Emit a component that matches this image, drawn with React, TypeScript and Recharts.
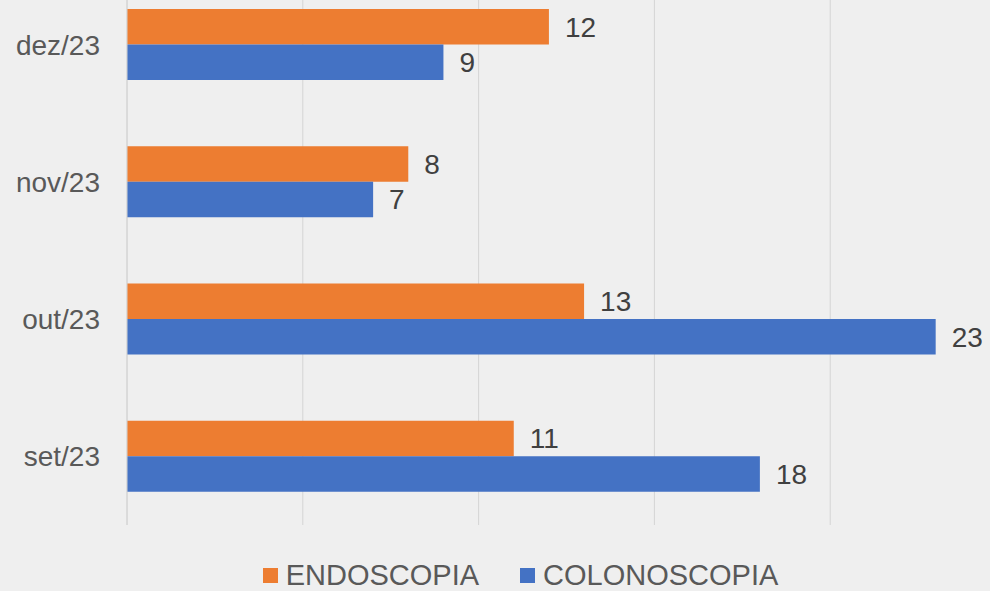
import { BarChart, Bar, XAxis, YAxis, CartesianGrid, LabelList, Legend } from 'recharts'

// meses (de cima para baixo) e valores
const MESES = ['dez/23', 'nov/23', 'out/23', 'set/23']
const ENDOSCOPIA = [12, 8, 13, 11]
const COLONOSCOPIA = [9, 7, 23, 18]
const X_TICKS = [0, 5, 10, 15, 20, 25]

const SERIES = [
    { key: 'endoscopia', name: 'ENDOSCOPIA', color: '#ED7D31' },
    { key: 'colonoscopia', name: 'COLONOSCOPIA', color: '#4472C4' },
]

const data = MESES.map((mes, i) => ({
    mes,
    endoscopia: ENDOSCOPIA[i],
    colonoscopia: COLONOSCOPIA[i],
}))

const FONT = '"Liberation Sans", Arial, sans-serif'

const renderLegend = () => (
    <div
        style={{
            display: 'flex',
            justifyContent: 'center',
            alignItems: 'center',
            paddingTop: 34,
            paddingLeft: 35,
            fontFamily: FONT,
            fontSize: 29,
            color: '#595959',
        }}
    >
        {SERIES.map((s, i) => (
            <div key={s.key} style={{ display: 'flex', alignItems: 'center', marginRight: i === 0 ? 41 : 0 }}>
                <span style={{ width: 15, height: 15, background: s.color, marginRight: 8, display: 'inline-block' }} />
                <span>{s.name}</span>
            </div>
        ))}
    </div>
)

export default function App() {
    return (
        <div
            style={{
                position: 'absolute',
                left: 0,
                top: 0,
                width: 990,
                height: 591,
                overflow: 'hidden',
                background: '#efefef',
            }}
        >
            <div style={{ position: 'absolute', left: 0, top: -24 }}>
                <BarChart
                    width={1006}
                    height={625}
                    data={data}
                    layout="vertical"
                    margin={{ top: 0, right: 0, bottom: 0, left: 0 }}
                    barGap={0}
                    barSize={35.5}
                >
                    <CartesianGrid horizontal={false} stroke="#d4d4d4" />
                    <XAxis type="number" domain={[0, 25]} ticks={X_TICKS} hide />
                    <YAxis
                        type="category"
                        dataKey="mes"
                        width={127}
                        tickLine={false}
                        tickSize={6}
                        tickMargin={21}
                        axisLine={{ stroke: '#d4d4d4' }}
                        tick={{ fill: '#595959', fontSize: 28, fontFamily: FONT }}
                    />
                    {SERIES.map((s) => (
                        <Bar key={s.key} dataKey={s.key} name={s.name} fill={s.color} isAnimationActive={false}>
                            <LabelList
                                dataKey={s.key}
                                position="right"
                                offset={16}
                                fill="#404040"
                                fontSize={28}
                                fontFamily={FONT}
                            />
                        </Bar>
                    ))}
                    <Legend verticalAlign="bottom" height={76} content={renderLegend} />
                </BarChart>
            </div>
        </div>
    )
}
